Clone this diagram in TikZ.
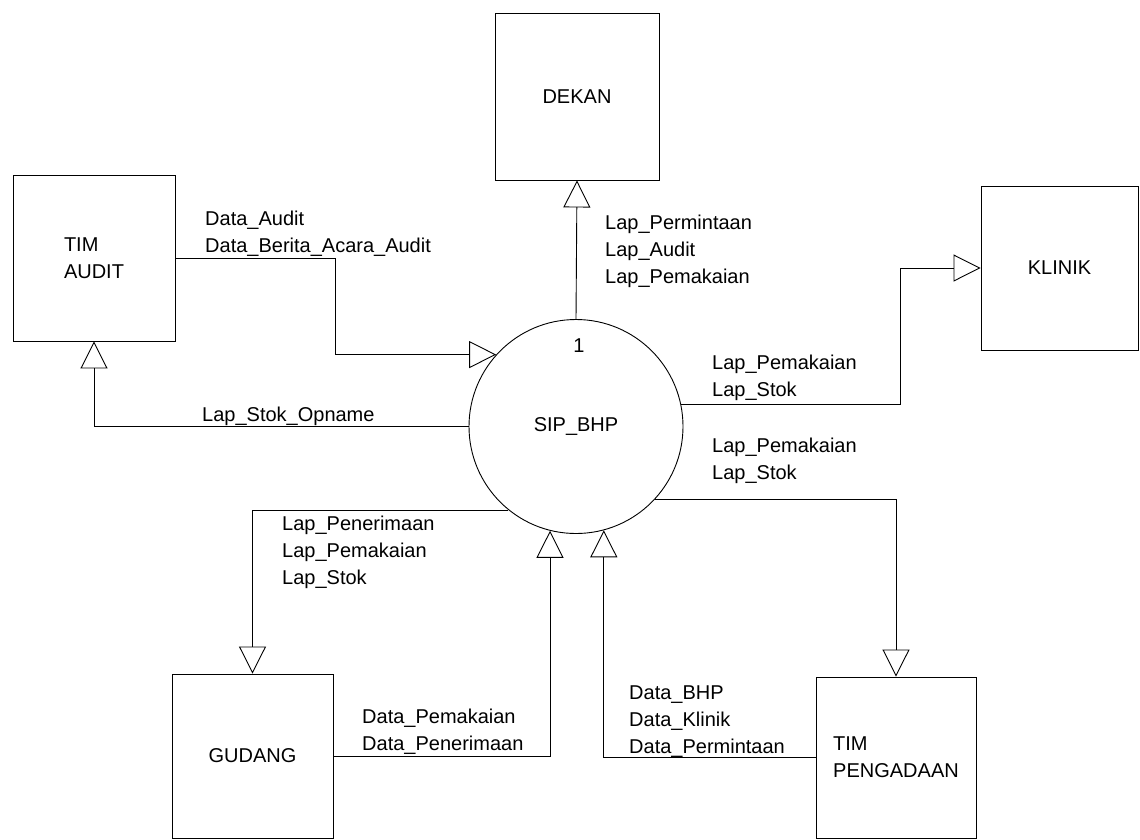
\documentclass[tikz,border=0pt]{standalone}
\usepackage{fontspec}
\setmainfont{Liberation Sans}
\usetikzlibrary{arrows.meta, positioning}

\begin{document}
\begin{tikzpicture}[
  x=1pt, y=-1pt,
  font=\fontsize{20}{27}\selectfont,
  entity/.style={
    draw, line width=0.9pt,
    align=left, inner sep=0pt
  },
  process/.style={
    draw, circle, line width=0.9pt,
    minimum size=214pt, inner sep=0pt
  },
  flow/.style={
    -{Triangle[open, length=27pt, width=27pt]},
    line width=0.9pt},
  lbl/.style={
    align=left, anchor=base west, inner sep=0pt}
]
\useasboundingbox (0,0) rectangle (1140,839);

% terminators
\node[entity, minimum width=164pt, minimum height=167pt]
  (dekan) at (577,96.5) {DEKAN};
\node[entity, minimum width=162pt, minimum height=166pt]
  (audit) at (94,258) {TIM\\AUDIT};
\node[entity, minimum width=157pt, minimum height=164pt]
  (klinik) at (1059.5,268) {KLINIK};
\node[entity, minimum width=161pt, minimum height=164pt]
  (gudang) at (252.5,756) {GUDANG};
\node[entity, minimum width=160pt, minimum height=161pt]
  (pengadaan) at (896,757.5) {TIM\\PENGADAAN};

% process
\node[process] (sip) at (576,426.5) {SIP\_BHP};
\node[anchor=base, inner sep=0pt] (num) at (579,352) {1};

% flows
\draw[flow] (audit.east) -- ++(160,0) |- (sip.138.2);
\draw[flow] (sip.west) -| (audit.south);
\draw[flow] (sip.north) -- (dekan.south);
\draw[flow] (sip.12.7) -- ++(219,0) |- (klinik.west);
\draw[flow] (sip.-43.4) -| (pengadaan.north);
\draw[flow] (sip.-129.5) -| (gudang.north);
\draw[flow] (gudang.east) -| (sip.-104.9);
\draw[flow] (pengadaan.west) -| (sip.-75.7);

% flow labels (placed at the baseline of the last line)
\node[lbl] (l-audit) at (205,252)
  {Data\_Audit\\Data\_Berita\_Acara\_Audit};
\node[lbl] (l-opname) at (202,421) {Lap\_Stok\_Opname};
\node[lbl] (l-dekan) at (605,283)
  {Lap\_Permintaan\\Lap\_Audit\\Lap\_Pemakaian};
\node[lbl] (l-klinik) at (712,396)
  {Lap\_Pemakaian\\Lap\_Stok};
\node[lbl] (l-pengadaan) at (712,479)
  {Lap\_Pemakaian\\Lap\_Stok};
\node[lbl] (l-gudang) at (282,584)
  {Lap\_Penerimaan\\Lap\_Pemakaian\\Lap\_Stok};
\node[lbl] (l-pakai) at (362,750)
  {Data\_Pemakaian\\Data\_Penerimaan};
\node[lbl] (l-bhp) at (629,753)
  {Data\_BHP\\Data\_Klinik\\Data\_Permintaan};

\end{tikzpicture}
\end{document}
